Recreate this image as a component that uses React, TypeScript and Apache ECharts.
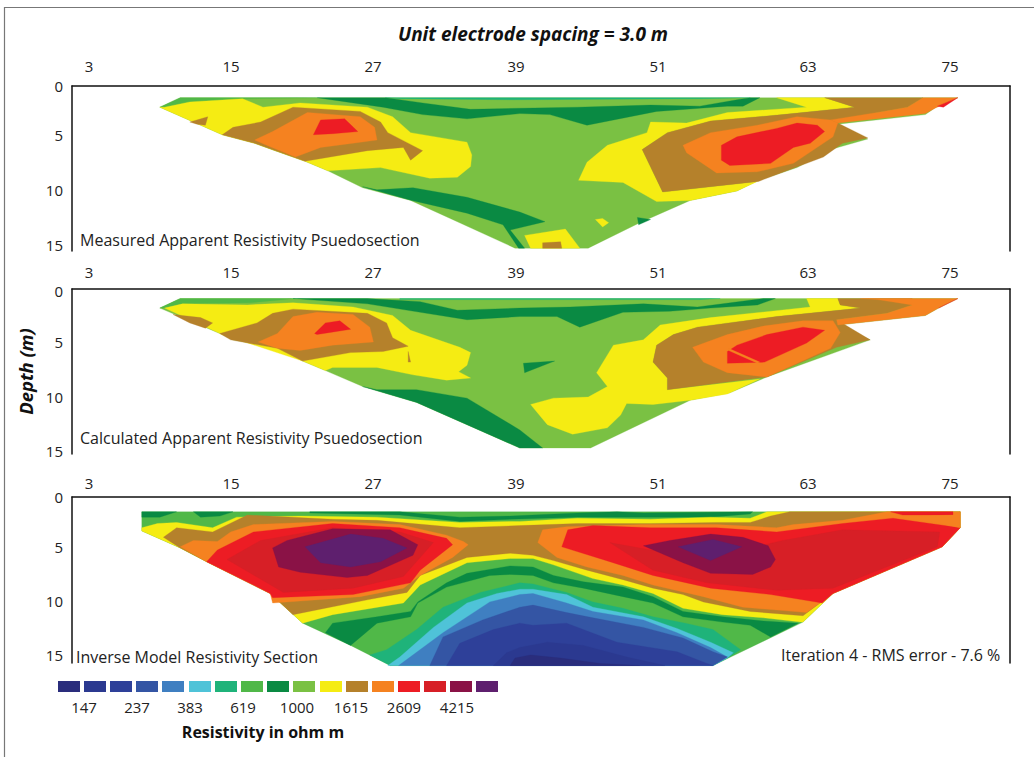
import React, { useEffect, useRef } from "react";
import * as echarts from "echarts";

const zip = (xs: number[], ds: number[]) => xs.map((x, i) => [x, ds[i]]);

// colour classes
const legendColors = ["#2a2d7c","#2b3990","#2e4099","#3455a4","#3f7fc1","#4fc3d8","#1fb37a","#50b848","#0a8a43","#7ac143","#f5ec13","#b5812b","#f58220","#ed1c24","#d71f26","#8a1246","#5e1f6e"];
const [navy, blue4, blue3, blue2, blue1, cyan, teal, green, dark, light, yellow, brown, orange, red, red2, maroon, purple] = legendColors;
const legendLabels = ["147","237","383","619","1000","1615","2609","4215"];

const xTickAt = [3, 14.83, 26.67, 38.58, 50.42, 62.92, 74.75];
const depthAt1 = [0, 4.62, 9.81, 15];
const depthAt2 = [0.19, 5, 10.19, 15.28];
const depthAt3 = [0, 4.72, 9.81, 14.9];

// ---- Measured section (electrode, depth)
const m_base = zip([10.6,75.4,73.7,72.7,65.4,67.9,64.8,62,58.8,57,53.1,48.9,44.6,38.5,33.1,29.8,25.8,22.9,21,18.5,16.8,14.1,8.9],[1.1,1.1,1.9,2.7,3.6,5,6,7.7,8.9,9.9,10.8,12.9,15.3,15.3,12.5,10.8,9.6,8,7.1,6.1,5.4,4.6,2]);
const m_strip = zip([10.6,22,15.8,11.4,9.3,8.9],[1.1,1.1,1.2,1.5,2,2]);
const m_teal = zip([27.7,58.1,53.9,38.5,28.9],[1.1,1.1,1.2,1.3,1.2]);
const m_darkTop = zip([22,27.7,30.8,34.8,38.9,43.7,49.8,53.9,57,58.1,58.9,57.5,56.2,53.9,50.3,44.5,41.4,38.9,34.5,30.8,27.5],[1.1,1.1,1.6,2.2,2.1,2,1.8,1.9,1.3,1.1,1.1,1.9,1.9,2.1,2.4,3.7,2.7,2.6,3.1,2.7,2]);
const m_yellowL = zip([9.3,11.4,15.8,17.5,20.6,26.2,28.3,29.8,34.5,34.9,34.8,33.7,31.4,27.3,22.9,21,16.8,14.1,8.9],[2,1.5,1.2,2,1.6,2,2.9,4.4,5.3,6.5,7.6,8.6,8.7,7.7,8,7.1,5.4,4.6,2]);
const m_brownS = zip([11.4,12.9,12.7,12],[3.4,2.9,3.7,3.6]);
const m_brownL = zip([14.1,15,17.3,20,25.6,27.3,27.9,30.8,29.8,29.2,26.2,21,16.8],[4.6,3.9,3.4,2,2.4,3.4,4.4,6.1,7,5.8,6.1,7.1,5.4]);
const m_orangeL = zip([16.8,18.3,21.2,25.6,26.8,27,25,22.3,20.2,17.8],[5.1,4.3,2.5,2.9,3.9,5.1,5.4,5.8,6.7,5.6]);
const m_redL = zip([21.7,22.3,24.3,25.4,23.3],[4.6,3.2,3.1,4.3,4.5]);
const m_darkLow = zip([25.8,27,30,34.5,38.9,41,38.1,39.3,38.8,37.5,34.5,29.9],[9.5,9.8,9.6,10.5,11.9,12.8,13.6,15.3,15.3,13.1,12,10.8]);
const m_yellowB = zip([39.3,42.7,43.9,39.8],[14.1,13.5,15.3,15.3]);
const m_brownB = zip([40.8,42.3,42.4,40.8],[14.8,14.7,15.3,15.3]);
const m_yellowDot = zip([45.2,45.8,46.3,45.8],[12.6,12.5,12.9,13.3]);
const m_darkDot = zip([48.7,49.8,48.8],[12.4,12.6,13.1]);
const m_yellowR = zip([60.3,64.3,66.8,60.8,54.8,51.2,49.1,50.8,58.7,57,53.1,50.3,47.5,43.8,44.5,46.2,49.5,49.8,52.8,56.2,62.8],[1.1,1.1,2,2.7,3.3,4.4,6,10,9,9.9,10.8,10.9,9.1,8.9,7.2,5.6,4.4,3.4,3.5,2.5,2]);
const m_brownR = zip([64.3,72.5,71.2,68.7,65.4,67.9,65.8,64.2,58.8,50.8,49.1,51.2,54.8,60.8,66.8],[1.1,1.1,2,2.5,3.5,4.9,5.4,6.7,9,10,6,4.4,3.3,2.7,2]);
const m_orangeS = zip([72.5,75.4,73.5,72.7,65.4,64.8,68.7,71.2],[1.1,1.1,2.1,2.6,3.5,3.2,2.5,2]);
const m_orangeB = zip([52.5,54.8,58.7,62,64.8,65.4,65,61.7,58.7,55.3,52.8],[5.6,4.4,3.7,2.9,3.2,3.5,4.8,7.3,8.1,8.2,6.3]);
const m_redR = zip([55.7,57,60.3,62,63.7,64.3,63.1,61.7,59.8,56.4,55.7],[5.6,4.8,4,3.5,3.7,4.3,5.4,5.8,7.3,7.5,7]);
const m_redTip = zip([73.7,75.4,74.2],[1.9,1.1,2]);

const measured = [
  [light,m_base],[green,m_strip],[teal,m_teal],[dark,m_darkTop],[yellow,m_yellowL],[brown,m_brownS],[brown,m_brownL],[orange,m_orangeL],[red,m_redL],
  [dark,m_darkLow],[yellow,m_yellowB],[brown,m_brownB],[yellow,m_yellowDot],[dark,m_darkDot],
  [yellow,m_yellowR],[brown,m_brownR],[orange,m_orangeS],[orange,m_orangeB],[red,m_redR],[red,m_redTip],
];

// ---- Calculated section
const c_base = zip([10.6,75.4,73.8,72.7,65.4,68.1,59.5,56.4,53.1,44.8,38.9,30.3,25.8,22.7,20.8,18.7,15,14.1,8.9],[0.9,0.9,1.8,2.5,3.4,4.8,8.3,9.8,10.5,15,15,10.7,9.2,7.7,6.8,5.6,4.8,4.3,1.8]);
const c_strip = zip([10.6,20.2,16.4,10.8,9.3,8.9],[0.9,0.9,1.3,1.4,1.8,1.8]);
const c_teal = zip([28.9,55.6,53.9,28.9],[0.9,0.9,1,1]);
const c_darkTop = zip([20,26.2,30.6,33.7,38.9,43.1,49.2,53.7,59.2,60.2,58.7,54.8,51.4,47.5,43.9,42,38.9,34.5,30.6,26.2],[0.9,0.9,1.2,2,1.8,1.7,1.4,1.7,0.9,0.9,1.5,1.8,2.1,2.2,3.6,2.6,2.6,2.9,2.2,1.4]);
const c_yellowL = zip([9.3,10.8,16.2,20,25,28.3,29.8,33.9,34.8,34.5,33.8,34.8,32.8,30,27,23.3,22.7,20.8,14.1],[1.8,1.4,1.5,1.3,1.7,2.5,3.9,5.5,6,7.2,7.8,8.4,8.6,8.1,7.4,7.4,7.7,6.8,4.3]);
const c_brownS = zip([10,12.3,13.3,12.7,11.4],[2.4,2.7,3.2,3.7,3.2]);
const c_brownL = zip([13.9,17,18.3,20,26.2,27.8,28.3,29.6,27.5,24.8,20.8,18.7,14.8],[4.2,3.2,2.3,1.9,2.3,3.2,4.6,5.4,5.9,6,6.8,5.6,4.8]);
const c_orangeL = zip([17.1,18.7,20,22,25,26.4,26.7,23.3,20.6,18.7],[5,4.2,2.6,2.2,2.4,3.6,5,5.3,5.8,5.6]);
const c_redL = zip([21.8,22.7,23.9,24.8,23.1,22],[4.2,3.2,3,3.8,4.1,4.3]);
const c_spike = zip([29.6,29.8,29.6],[5.9,6.9,6.9]);
const c_darkTri = zip([39.2,41.8,39.3],[7,6.8,7.9]);
const c_darkLow = zip([25.8,27,30.3,34.5,38.9,40.8,38.9,30.3],[9.2,9.5,9.5,10.3,13.3,15,15,10.7]);
const c_yellowR = zip([62.8,65.4,65.6,67.3,60.3,53.7,51.7,50.3,50,51.2,51.2,58.9,56.2,53.1,50,47.8,47.3,46.2,43.3,41.2,39.8,41.7,44.6,46.2,45.3,46.7,49.2,50.6,54.8,63.1],[0.9,0.9,1.5,1.8,2.6,3.6,4.3,5.3,6.9,8.4,9.5,8.5,9.9,10.5,10.9,10.8,11.9,13.1,13.7,12.8,10.9,10.3,10.2,9.2,7.9,5.3,4.8,3.4,2.7,1.7]);
const c_brownR = zip([65.4,71.6,71.6,69.5,65.3,68.1,65.3,59.5,51.2,51.2,50,50.3,51.7,53.7,60.3,67.3,65.6],[0.9,0.9,1.5,2.3,2.9,4.8,5.5,8.3,9.5,8.4,6.9,5.3,4.3,3.6,2.6,1.8,1.5]);
const c_orangeS = zip([67.3,75.4,73.8,72.7,65.4,65.3,69.5,71.6,68.7],[0.9,0.9,1.8,2.5,3.4,2.9,2.3,1.5,1]);
const c_orangeB = zip([53.3,56.2,59.2,62.5,65,65.6,64.8,59.5,56.2,54.2],[5.5,4.3,3.5,3,3,4.1,5.6,8.3,7.9,6.9]);
const c_redR = zip([56.2,57,59.5,62.5,64.3,62.8,59.3,56.2],[5.9,5.3,4.3,3.6,3.9,5.1,6.9,7]);
const c_slit = zip([56.3,58.9,58.7,56.3],[5.6,6.9,7,5.8]);
const c_redTip = zip([73.8,75.4,74.3],[1.8,0.9,1.5]);

const calculated = [
  [light,c_base],[green,c_strip],[teal,c_teal],[dark,c_darkTop],[yellow,c_yellowL],[brown,c_brownS],[brown,c_brownL],[orange,c_orangeL],[red,c_redL],[brown,c_spike],
  [dark,c_darkTri],[dark,c_darkLow],[yellow,c_yellowR],[brown,c_brownR],[orange,c_orangeS],[orange,c_orangeB],[red,c_redR],[orange,c_slit],[red,c_redTip],
];

// ---- Inverse model section
const i_base = zip([7.4,75.6,75.6,74.1,65,62.5,55,28.1,24.8,20.8,18.1,12.8,10.6,7.4],[1.4,1.4,2.9,4.7,9.1,11.8,15.9,15.9,14,11.9,9.1,6.1,4.8,3.2]);
const i_patchA = zip([7.4,10.3,8.9,7.4],[1.4,1.4,1.9,1.9]);
const i_patchB = zip([11.7,15,13.9,12.3],[1.4,1.4,1.8,1.9]);
const i_thin = zip([21.4,28.9,33.9,38.1,43.7,47,49.2,58.3,58.1,54.8,49.2,43.7,38.1,33.9,28.9,21.4],[1.4,1.4,1.9,1.8,1.5,1.4,1.5,1.4,1.6,1.9,1.9,1.9,2.1,2.3,1.7,1.5]);
const i_yellow = zip([7.4,8.7,10.3,13.3,15.3,20.6,27,33.9,38.9,43.7,49.8,54.8,58.1,59.5,75.6,75.6,74.1,65,62.5,62.3,59.2,55.8,52.5,50,47.5,45,41.7,40,38.1,34.5,30.6,29.2,23.3,20.8,18.1,12.8,10.6,7.4],[2.9,2.5,2.4,2.9,1.9,1.8,1.9,2.4,2.3,2,2.1,1.9,2,1.4,1.4,2.9,4.7,9.1,11.8,11.8,11.4,11.1,10.5,9.1,8.3,7.7,6.4,5.8,5.8,6.2,8.3,10,11.1,11.9,9.1,6.1,4.8,3.2]);
const i_brown = zip([9.2,10.3,13.3,16.2,23.3,27,33.9,38.9,43.7,49.8,55.3,58.1,59.8,61.4,75.6,75.6,74.1,65,62.5,58.1,54.2,52.5,50,47.5,44.5,41.7,40,38.1,34.5,30.6,29.5,26.2,20,18.1,12.8,10.6],[3.8,2.9,3.3,1.7,2.1,2.2,2.9,2.7,2.5,2.5,2.4,2.4,1.8,1.4,1.4,2.9,4.7,9.1,11.2,10.8,9.9,9.2,8.6,7.8,6.9,6,5.5,5.3,5.7,7.4,9,9.7,11.1,9.1,6.1,4.8]);
const i_orangeL = zip([10.6,11.7,13.7,14.8,16.7,23.3,28.9,32.8,34.2,34.6,33.3,30.6,29.2,25.6,18.3,18.1,12.8],[4.7,4.1,4.2,3.3,2.6,2.3,2.6,3.6,4.2,4.5,5.7,7.4,8.6,9.4,10,9.1,6.1]);
const i_redL = zip([12.8,13.7,16.7,23.3,28.9,32.8,33.3,30.6,29.8,25,18.3,18.1],[6.1,5,3.3,2.5,2.9,3.9,4.5,6.9,8.1,9.2,9.5,9.1]);
const i_red2L = zip([14.5,17.3,23.3,28.9,31.7,29.2,25,19.2],[5.9,4.1,2.9,3.3,4.3,7.5,8.6,9]);
const i_maroonL = zip([18.3,19.5,23.3,28.1,30.4,30,26.2,24.5,20.6,18.8],[4.8,4.1,3,3.1,4.5,5.5,7.4,7.6,7.1,6.6]);
const i_purpleL = zip([21,24.8,27.5,29.5,27.3,24.8,22.3],[4.7,3.5,3.9,4.8,6.1,6.6,6.2]);
const i_orangeR = zip([40.4,40.8,42.8,49.2,55.3,60.3,61.7,65.8,69.5,75.6,75.6,74.1,65,62.8,57.5,54.2,50,47.5,44.5,42],[4.3,3.1,2.8,2.6,2.6,2.9,2.6,2.2,1.4,1.4,2.9,4.7,9.1,10.9,10.4,9.4,8.3,7.4,6.6,5.7]);
const i_redR = zip([42.4,42.9,45,49.8,55.3,60.3,65.8,70,75.6,74.1,65,64.1,59.8,54.8,50,46.4],[4.7,3.1,2.7,2.9,2.9,3.3,2.5,2,2.9,4.7,9.1,10,9.2,8.6,7.4,6.1]);
const i_redTop = zip([69.8,75,75,70.8],[1.4,1.4,1.7,1.7]);
const i_orangeP = zip([70,75,75.6,75.6,73.9],[1.9,1.7,1.4,2.9,2.5]);
const i_red2R = zip([46.4,49.8,57.5,60.8,65.8,73.9,73.7,65,60.3,54.5,50],[4.3,5,5,4.1,3.1,3.3,4.7,8.6,8.8,8.1,6.9]);
const i_maroonR = zip([49.2,51.4,54.8,57.5,59.6,60.2,59.8,58.3,54.8,52.5],[4.6,4.1,3.5,3.8,4.6,5.9,6.6,7.3,7.2,6.2]);
const i_purpleR = zip([52.1,55,57.4,54.8],[4.7,4,4.7,6]);
const i_darkLow = zip([38.1,40,41.7,44.2,47.5,50,52.5,55.8,59.2,62.1,59.8,58.1,55.8,52.5,50,47.5,44.2,41.7,40,38.1,36.4,32.8,30.4,29.8,27,24.8,22.7,23.3,27,29.8,30.4,32.8,34.5],[6.5,6.6,7.4,8,8.5,9.4,10.8,11.3,11.7,11.9,13.2,12.1,11.8,11.3,10,9.4,8.6,8.1,7.4,7.3,7.4,8.5,10,11.3,11.9,14,12.8,11.9,11.3,10.8,9.9,8.1,7.2]);
const i_teal = zip([26.4,27.8,30.3,32.5,35.6,38.9,40,42.8,45,47.5,50,52.7,55,57.3,56.2,55,28.1],[14.9,14.4,12.5,10.4,9,8.1,8.2,9,9.9,10.5,11.3,11.9,12.5,14.4,15.2,15.9,15.9]);
const i_cyan = zip([27.9,28.9,31.7,34.5,37,38.9,40,42.8,45,49.2,52,54.8,56.7,56.2,55],[15.9,15.1,12.3,10,9.1,8.7,8.7,9.2,10.4,11.3,12.4,13.7,14.7,15.2,15.9]);
const i_blue1 = zip([28.8,32.5,36.4,38.9,40,42.8,45,49.2,52,54.8,56.2,55],[15.9,12.8,9.9,9.2,9.1,10,10.8,11.6,12.8,14.2,15.1,15.9]);
const i_blue2 = zip([31.4,32.5,35.8,38.9,40,42.8,45,49.2,52.5,55,56.2,55],[15.9,13.2,11.6,10.4,10.2,10.9,11.4,12.3,13.3,14.6,15.1,15.9]);
const i_blue3 = zip([32.8,33.9,36.7,38.9,40,42.8,47,52,54.5,55],[15.9,13.8,12.5,11.9,12.1,11.9,13.7,14.6,15.7,15.9]);
const i_blue4 = zip([36.7,37.8,38.9,41.2,44.2,47.8,51],[15.9,14.7,14.2,13.7,14,15.1,15.9]);
const i_navy = zip([38.1,38.5,39.8,42.3,45.6,48.9],[15.9,15.2,14.9,15.2,15.7,15.9]);

const inverse = [
  [green,i_base],[dark,i_patchA],[dark,i_patchB],[dark,i_thin],[yellow,i_yellow],[brown,i_brown],
  [orange,i_orangeL],[red,i_redL],[red2,i_red2L],[maroon,i_maroonL],[purple,i_purpleL],
  [orange,i_orangeR],[red,i_redR],[red,i_redTop],[orange,i_orangeP],[red2,i_red2R],[maroon,i_maroonR],[purple,i_purpleR],
  [dark,i_darkLow],[teal,i_teal],[cyan,i_cyan],[blue1,i_blue1],[blue2,i_blue2],[blue3,i_blue3],[blue4,i_blue4],[navy,i_navy],
];

const FONT = "'Open Sans', 'Noto Sans', sans-serif";
const panels = [
  { layers: measured, top: 86, h: 165, max: 15.57, depthAt: depthAt1, xMargin: 13, name: "" },
  { layers: calculated, top: 289, h: 165, max: 15.57, depthAt: depthAt2, xMargin: 10, name: "Depth (m)" },
  { layers: inverse, top: 497, h: 166, max: 15.66, depthAt: depthAt3, xMargin: 7, name: "" },
];

export default function App() {
  const ref = useRef<HTMLDivElement>(null);
  useEffect(() => {
    const chart = echarts.init(ref.current!, null, { renderer: "svg" });
    const line = { lineStyle: { color: "#111", width: 1.5 } };
    const legendX = [58, 84, 110, 136, 162, 189, 215, 241, 267, 293, 320, 346, 372, 398, 424, 450, 476];
    const labelX = [84, 137, 190, 243, 297, 351, 404, 457];
    const text = (x: number, y: number, t: string, extra: any = {}) => ({
      type: "text", x, y,
      style: { text: t, fontFamily: FONT, fontSize: 16, fill: "#222", textVerticalAlign: "middle", ...extra },
    });
    chart.setOption({
      animation: false,
      backgroundColor: "#fff",
      title: {
        text: "Unit electrode spacing = 3.0 m", left: 393, top: 19,
        textStyle: { fontFamily: FONT, fontSize: 19, fontWeight: "bold", fontStyle: "italic", color: "#111" },
      },
      grid: panels.map((p) => ({ left: 72, width: 938, top: p.top, height: p.h })),
      xAxis: panels.map((p, i) => ({
        type: "value", gridIndex: i, position: "top", min: 1.583, max: 79.75,
        axisLine: { show: true, onZero: false, ...line }, axisTick: { show: false }, splitLine: { show: false },
        axisLabel: {
          customValues: xTickAt, margin: p.xMargin, fontFamily: FONT, fontSize: 15, color: "#222",
          formatter: (v: number) => String(Math.round((Number(v) - 3) / 12) * 12 + 3),
        },
      })),
      yAxis: panels.flatMap((p, i) => [
        {
          type: "value", gridIndex: i, inverse: true, min: 0, max: p.max, position: "left",
          axisLine: { show: true, onZero: false, ...line }, axisTick: { show: false }, splitLine: { show: false },
          name: p.name, nameLocation: "middle", nameGap: 36,
          nameTextStyle: { fontFamily: FONT, fontSize: 18.5, fontWeight: "bold", fontStyle: "italic", color: "#111" },
          axisLabel: {
            customValues: p.depthAt, margin: 9, fontFamily: FONT, fontSize: 15, color: "#222",
            formatter: (v: number) => String(Math.round(Number(v) / 5) * 5),
          },
        },
        {
          type: "value", gridIndex: i, inverse: true, min: 0, max: p.max, position: "right",
          axisLine: { show: true, onZero: false, ...line }, axisTick: { show: false }, splitLine: { show: false },
          axisLabel: { show: false },
        },
      ]),
      series: panels.map((p, i) => ({
        type: "custom", xAxisIndex: i, yAxisIndex: i * 2, clip: false, silent: true,
        data: p.layers.map((_, k) => k),
        renderItem: (params: any, api: any) => {
          const [color, pts] = p.layers[params.dataIndex] as [string, number[][]];
          return {
            type: "polygon",
            shape: { points: pts.map((q) => api.coord(q)) },
            style: { fill: color, stroke: color, lineWidth: 0.3 },
          };
        },
      })),
      graphic: [
        { type: "line", shape: { x1: 4, y1: 7.5, x2: 1034, y2: 7.5 }, style: { stroke: "#777", lineWidth: 1.2 } },
        { type: "line", shape: { x1: 4.5, y1: 7, x2: 4.5, y2: 757 }, style: { stroke: "#777", lineWidth: 1.2 } },
        text(80, 240, "Measured Apparent Resistivity Psuedosection"),
        text(80, 438, "Calculated Apparent Resistivity Psuedosection"),
        text(76, 657, "Inverse Model Resistivity Section"),
        text(781, 655, "Iteration 4 - RMS error - 7.6 %"),
        ...legendColors.map((c, i) => ({
          type: "rect", shape: { x: legendX[i], y: 681, width: 22, height: 11 }, style: { fill: c },
        })),
        ...legendLabels.map((t, i) => text(labelX[i], 707, t, { textAlign: "center", fontSize: 15 })),
        text(263, 732, "Resistivity in ohm m", { textAlign: "center", fontWeight: "bold", fill: "#111" }),
      ],
    });
    return () => chart.dispose();
  }, []);
  return <div ref={ref} style={{ position: "absolute", left: 0, top: 0, width: 1034, height: 757 }} />;
}
